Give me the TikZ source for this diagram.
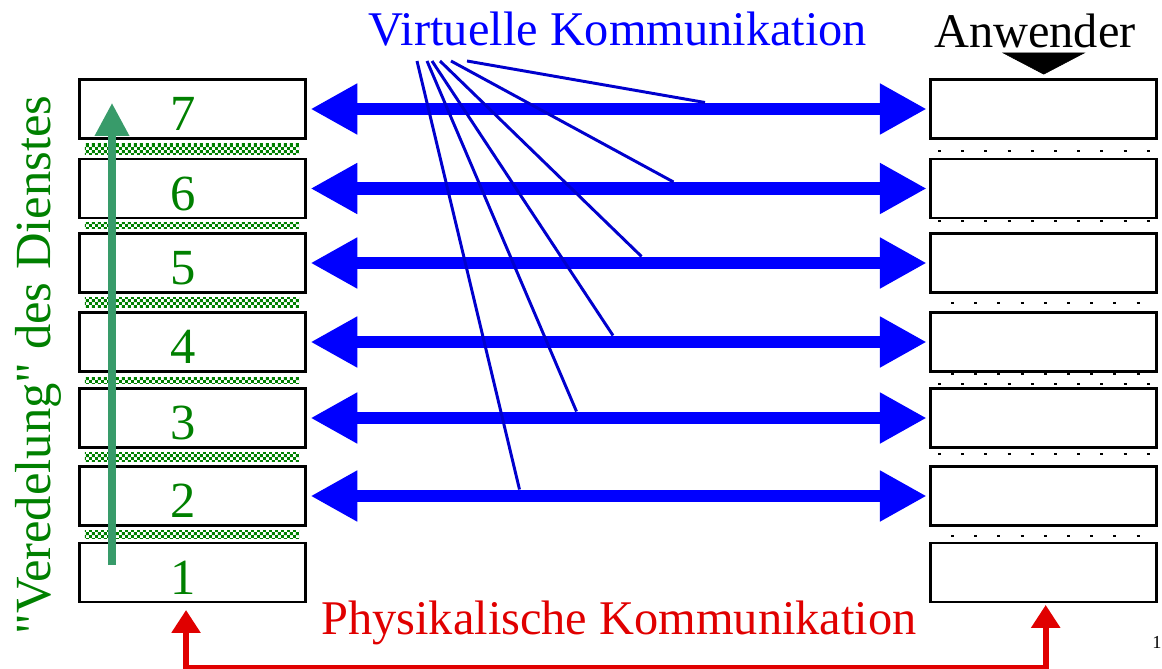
\documentclass[tikz,border=0pt]{standalone}
\usepackage{fontspec}
\setmainfont{Liberation Serif}[Ligatures = TeXOff]
\usetikzlibrary{arrows.meta,patterns,calc}

\definecolor{dkgreen}{RGB}{0,128,0}
\definecolor{upgreen}{RGB}{56,155,106}
\definecolor{virtblue}{RGB}{0,0,255}
\definecolor{fanblue}{RGB}{0,0,205}
\definecolor{physred}{RGB}{224,0,0}

% fine checker for the gaps between the layers
\pgfdeclarepatternformonly{finecheck}{\pgfpointorigin}{\pgfqpoint{4.25pt}{4.25pt}}%
  {\pgfqpoint{4.25pt}{4.25pt}}%
  {\pgfpathrectangle{\pgfpointorigin}{\pgfqpoint{2.125pt}{2.125pt}}%
   \pgfpathrectangle{\pgfqpoint{2.125pt}{2.125pt}}{\pgfqpoint{2.125pt}{2.125pt}}%
   \pgfusepath{fill}}

\begin{document}
\begin{tikzpicture}[
     x = 0.025cm, y = -0.025cm,
     big/.style = {font = \fontsize{34.4pt}{40pt}\selectfont},
     stackbox/.style = {draw, line width = 2.1pt, minimum width = 5.65cm,
       minimum height = 1.475cm, inner sep = 0pt, text = dkgreen,
       font = \fontsize{36pt}{40pt}\selectfont, text height = 31pt,
       execute at end node = \hspace*{14pt}},
     band/.style = {pattern = finecheck, pattern color = dkgreen},
     dotrow/.style = {line width = 2.1pt, dash pattern = on 2.1pt off 14.4pt},
     virtual/.style = {virtblue, line width = 9.2pt,
       >= {Triangle[length = 33.3pt, width = 34pt]}, <->,
       shorten <= 2.5pt, shorten >= 1.8pt},
     fan/.style = {fanblue, line width = 2.1pt},
     refine/.style = {upgreen, line width = 5pt,
       -{Triangle[length = 23.4pt, width = 23.4pt]},
       shorten <= 5.3pt, shorten >= -4.25pt},
     phys/.style = {physred, line width = 4.25pt,
       >= {Triangle[length = 16.3pt, width = 19.8pt]}, <->,
       shorten <= 4.6pt, shorten >= 1pt},
     userarrow/.style = {-{Triangle[length = 15.6pt, width = 59.5pt]},
       shorten >= 2.5pt}
    ]
    \useasboundingbox (0,0) rectangle (1162,669);

    % sender stack
    \node[stackbox] (l7) at (192.5,109) {7};
    \node[stackbox] (l6) at (192.5,188.5) {6};
    \node[stackbox] (l5) at (192.5,263) {5};
    \node[stackbox] (l4) at (192.5,342) {4};
    \node[stackbox] (l3) at (192.5,418) {3};
    \node[stackbox] (l2) at (192.5,496) {2};
    \node[stackbox] (l1) at (192.5,572.5) {1};

    % receiver stack
    \node[stackbox, right of = l7, node distance = 21.275cm] (r7) {};
    \node[stackbox, right of = l6, node distance = 21.275cm] (r6) {};
    \node[stackbox, right of = l5, node distance = 21.275cm] (r5) {};
    \node[stackbox, right of = l4, node distance = 21.275cm] (r4) {};
    \node[stackbox, right of = l3, node distance = 21.275cm] (r3) {};
    \node[stackbox, right of = l2, node distance = 21.275cm] (r2) {};
    \node[stackbox, right of = l1, node distance = 21.275cm] (r1) {};

    \fill[band] ($(l7.south west)+(7,3.5)$) rectangle ($(l6.north east)+(-8,-3.5)$);
    \fill[band] ($(l6.south west)+(7,3.5)$) rectangle ($(l5.north east)+(-8,-3.5)$);
    \fill[band] ($(l5.south west)+(7,3.5)$) rectangle ($(l4.north east)+(-8,-3.5)$);
    \fill[band] ($(l4.south west)+(7,3.5)$) rectangle ($(l3.north east)+(-8,-3.5)$);
    \fill[band] ($(l3.south west)+(7,3.5)$) rectangle ($(l2.north east)+(-8,-3.5)$);
    \fill[band] ($(l2.south west)+(7,3.5)$) rectangle ($(l1.north east)+(-8,-3.5)$);

    \draw[dotrow] (938,151) -- (1152,151);
    \draw[dotrow] (938,221) -- (1152,221);
    \draw[dotrow] (951,303) -- (1141,303);
    \draw[dotrow] (951,374) -- (1141,374);
    \draw[dotrow] (938,384) -- (1152,384);
    \draw[dotrow] (938,454) -- (1152,454);
    \draw[dotrow] (951,536) -- (1141,536);

    \draw[virtual] (l7.east) -- (r7.west);
    \draw[virtual] (l6.east) -- (r6.west);
    \draw[virtual] (l5.east) -- (r5.west);
    \draw[virtual] (l4.east) -- (r4.west);
    \draw[virtual] (l3.east) -- (r3.west);
    \draw[virtual] (l2.east) -- (r2.west);

    \node[big, virtblue, anchor = south, inner sep = 0pt, text depth = 10.6pt]
      (virt) at (618,61) {Virtuelle Kommunikation};
    \coordinate (v7) at (705,102.5);
    \coordinate (v6) at (673.5,182);
    \coordinate (v5) at (641.5,256.5);
    \coordinate (v4) at (613,335.5);
    \coordinate (v3) at (576.5,411.5);
    \coordinate (v2) at (519.5,489.5);
    \draw[fan] (virt.south -| 467,0) -- (v7);
    \draw[fan] (virt.south -| 451,0) -- (v6);
    \draw[fan] (virt.south -| 440,0) -- (v5);
    \draw[fan] (virt.south -| 432,0) -- (v4);
    \draw[fan] (virt.south -| 427,0) -- (v3);
    \draw[fan] (virt.south -| 417,0) -- (v2);

    \draw[refine] (l1.center -| 112,0) -- (l7.center -| 112,0);
    \node[dkgreen, rotate = 90, font = \fontsize{36pt}{40pt}\selectfont]
      (refinelabel) at (38.5,365) {"Veredelung" des Dienstes};

    \node[big, anchor = south, inner sep = 0pt, text depth = 5pt]
      (user) at (1035,55) {Anwender};
    \draw[userarrow] (user.south -| r7.north) -- (r7.north);

    \node[big, physred, anchor = base] (physlabel) at (619,634)
      {Physikalische Kommunikation};
    \draw[phys] ([xshift = -4.6pt]l1.south) -- ++(0,64.5) -| ([xshift = 1.4pt]r1.south);

    \node[font = \fontsize{13pt}{15pt}\selectfont, anchor = base] (pageno) at (1157,648) {1};
   \end{tikzpicture}
\end{document}
